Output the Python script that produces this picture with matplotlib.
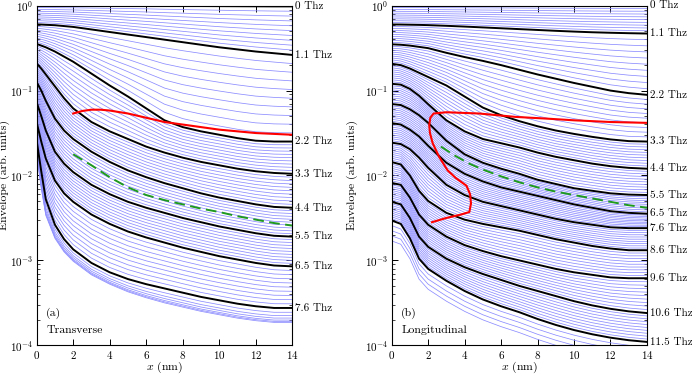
import numpy as np
import matplotlib
matplotlib.use('Agg')
from matplotlib import pyplot as plt
from matplotlib.ticker import LogLocator, NullFormatter, FixedLocator

plt.rcParams['font.family'] = 'cmr10'
plt.rcParams['mathtext.fontset'] = 'cm'
plt.rcParams['axes.formatter.use_mathtext'] = True

# ---- (a) transverse: log10(envelope) of the labelled (black) modes ----
xt = [0, 0.25, 0.5, 1, 1.5, 2, 3, 4, 5, 6, 7, 8, 9, 10, 11, 12, 13, 14]
t_00 = [0, 0, 0, 0, 0, 0, 0, 0, 0, 0, -0.002, -0.003, -0.004, -0.005, -0.006, -0.007, -0.008, -0.008]
t_11 = [-0.22, -0.222, -0.225, -0.23, -0.24, -0.25, -0.28, -0.31, -0.34, -0.37, -0.40, -0.43, -0.46, -0.49, -0.515, -0.54, -0.56, -0.58]
t_22 = [-0.45, -0.47, -0.49, -0.54, -0.60, -0.66, -0.80, -0.94, -1.07, -1.21, -1.35, -1.43, -1.48, -1.52, -1.56, -1.59, -1.60, -1.60]
t_33 = [-0.68, -0.74, -0.81, -0.95, -1.09, -1.21, -1.37, -1.48, -1.57, -1.66, -1.73, -1.79, -1.84, -1.88, -1.92, -1.95, -1.97, -1.98]
t_44 = [-0.90, -1.00, -1.12, -1.33, -1.47, -1.57, -1.72, -1.84, -1.94, -2.02, -2.09, -2.15, -2.21, -2.26, -2.30, -2.34, -2.37, -2.38]
t_55 = [-1.14, -1.30, -1.47, -1.72, -1.86, -1.96, -2.11, -2.22, -2.31, -2.38, -2.44, -2.50, -2.55, -2.60, -2.64, -2.68, -2.71, -2.72]
t_65 = [-1.375, -1.60, -1.80, -2.06, -2.21, -2.31, -2.46, -2.57, -2.66, -2.73, -2.79, -2.85, -2.90, -2.95, -2.99, -3.03, -3.06, -3.07]
t_76 = [-1.59, -1.95, -2.28, -2.58, -2.75, -2.87, -3.03, -3.14, -3.22, -3.28, -3.33, -3.38, -3.43, -3.47, -3.51, -3.54, -3.56, -3.56]
t_last = [-1.75, -2.15, -2.47, -2.74, -2.90, -3.01, -3.17, -3.28, -3.37, -3.44, -3.50, -3.55, -3.60, -3.64, -3.68, -3.71, -3.73, -3.73]
t_labels = ['0 Thz', '1.1 Thz', '2.2 Thz', '3.3 Thz', '4.4 Thz', '5.5 Thz', '6.5 Thz', '7.6 Thz']
t_last_frac = [0.30, 0.53, 0.70, 0.84, 0.93, 1.0]

t_red_x = [2.0, 2.5, 3.0, 3.5, 4, 5, 6, 7, 8, 9, 10, 11, 12, 13, 14]
t_red_y = [-1.27, -1.24, -1.225, -1.225, -1.235, -1.27, -1.32, -1.37, -1.40, -1.43, -1.46, -1.48, -1.50, -1.51, -1.52]
t_green_x = [2, 3, 4, 5, 6, 7, 8, 9, 10, 11, 12, 13, 14]
t_green_y = [-1.75, -1.88, -2.02, -2.14, -2.23, -2.29, -2.34, -2.39, -2.43, -2.48, -2.52, -2.56, -2.59]

# ---- (b) longitudinal ----
xl = [0, 0.5, 1, 1.5, 2, 3, 4, 5, 6, 7, 8, 9, 10, 11, 12, 13, 14]
l_00 = [0, 0, 0, 0, 0, 0, 0, 0, 0, 0, 0, 0, 0, 0, 0, 0, 0]
l_11 = [-0.221, -0.222, -0.224, -0.226, -0.229, -0.237, -0.246, -0.256, -0.266, -0.276, -0.286, -0.296, -0.305, -0.313, -0.319, -0.324, -0.328]
l_22 = [-0.455, -0.46, -0.47, -0.485, -0.50, -0.555, -0.605, -0.65, -0.70, -0.755, -0.81, -0.86, -0.91, -0.955, -1.00, -1.03, -1.05]
l_33 = [-0.684, -0.70, -0.74, -0.79, -0.84, -0.94, -1.07, -1.20, -1.29, -1.36, -1.42, -1.47, -1.51, -1.545, -1.575, -1.595, -1.60]
l_44 = [-0.92, -0.93, -0.98, -1.06, -1.16, -1.35, -1.48, -1.57, -1.62, -1.67, -1.73, -1.78, -1.82, -1.86, -1.89, -1.91, -1.92]
l_55 = [-1.158, -1.17, -1.22, -1.29, -1.38, -1.59, -1.75, -1.85, -1.92, -1.98, -2.05, -2.10, -2.15, -2.18, -2.21, -2.225, -2.23]
l_65 = [-1.383, -1.40, -1.46, -1.54, -1.65, -1.85, -1.98, -2.07, -2.14, -2.19, -2.24, -2.29, -2.34, -2.38, -2.42, -2.44, -2.45]
l_76 = [-1.613, -1.63, -1.69, -1.79, -1.91, -2.11, -2.23, -2.31, -2.36, -2.41, -2.46, -2.51, -2.55, -2.58, -2.61, -2.62, -2.62]
l_86 = [-1.842, -1.87, -2.00, -2.18, -2.30, -2.44, -2.52, -2.57, -2.61, -2.65, -2.70, -2.75, -2.79, -2.83, -2.86, -2.88, -2.88]
l_96 = [-2.087, -2.11, -2.26, -2.46, -2.58, -2.72, -2.82, -2.89, -2.95, -3.00, -3.05, -3.10, -3.14, -3.17, -3.20, -3.21, -3.21]
l_106 = [-2.31, -2.34, -2.50, -2.72, -2.84, -2.98, -3.08, -3.16, -3.23, -3.30, -3.36, -3.42, -3.48, -3.53, -3.57, -3.60, -3.62]
l_115 = [-2.53, -2.57, -2.74, -2.98, -3.10, -3.24, -3.36, -3.46, -3.54, -3.61, -3.69, -3.76, -3.82, -3.87, -3.91, -3.94, -3.96]
l_last = [-2.77, -2.81, -2.98, -3.22, -3.34, -3.48, -3.60, -3.70, -3.78, -3.85, -3.93, -4.00, -4.06, -4.11, -4.15, -4.18, -4.20]
l_labels = ['0 Thz', '1.1 Thz', '2.2 Thz', '3.3 Thz', '4.4 Thz', '5.5 Thz', '6.5 Thz',
            '7.6 Thz', '8.6 Thz', '9.6 Thz', '10.6 Thz', '11.5 Thz']
l_last_frac = [0.25, 0.5, 0.75, 1.0]

l_red_x = [2.21, 3.0, 3.8, 4.26, 4.35, 4.3, 4.1, 3.52, 3.07, 2.6, 2.25, 2.1, 2.06, 2.12, 2.3, 3.0, 4.8, 6.8, 8.5, 10, 12, 14]
l_red_y = [-2.55, -2.50, -2.46, -2.43, -2.33, -2.22, -2.12, -2.03, -1.94, -1.78, -1.62, -1.50, -1.41, -1.32, -1.27, -1.255, -1.27, -1.31, -1.33, -1.35, -1.37, -1.38]
l_green_x = [2.7, 3.5, 4.25, 5, 6, 7, 8, 9, 10, 11, 12, 13, 14]
l_green_y = [-1.66, -1.77, -1.86, -1.93, -2.01, -2.08, -2.14, -2.19, -2.23, -2.27, -2.31, -2.35, -2.38]

BLUE = '#8c8cff'


def panel(ax, x, blacks, labels, last, last_frac, rx, ry, gx, gy, tag, name):
    x = np.array(x)
    blacks = [np.array(b) for b in blacks]
    # thin modes between two labelled ones (every 10th mode is drawn in black)
    for a, b in zip(blacks[:-1], blacks[1:]):
        for k in range(1, 10):
            ax.plot(x, 10 ** (a + (b - a) * k / 10), color=BLUE, lw=0.55)
    a, b = blacks[-1], np.array(last)
    for f in last_frac:
        ax.plot(x, 10 ** (a + (b - a) * f), color=BLUE, lw=0.55)
    for b, lab in zip(blacks, labels):
        ax.plot(x, 10 ** b, color='black', lw=1.4)
        ax.text(1.012, 10 ** b[-1], lab, transform=ax.get_yaxis_transform(),
                va='center', ha='left', fontsize=8)
    ax.plot(rx, 10 ** np.array(ry), color='red', lw=1.5, zorder=5)
    ax.plot(gx, 10 ** np.array(gy), color='#1f9a1f', lw=1.4, dashes=(5.5, 2.8), zorder=5)

    ax.set_yscale('log')
    ax.set_xlim(0, 14)
    ax.set_ylim(1e-4, 1)
    ax.xaxis.set_major_locator(FixedLocator([0, 2, 4, 6, 8, 10, 12, 14]))
    ax.yaxis.set_major_locator(LogLocator(base=10, numticks=10))
    ax.yaxis.set_minor_locator(LogLocator(base=10, subs=np.arange(2, 10), numticks=10))
    ax.yaxis.set_minor_formatter(NullFormatter())
    ax.tick_params(which='both', direction='in', top=True, right=True, labelsize=8, pad=2.5)
    ax.tick_params(which='major', length=4, width=0.7)
    ax.tick_params(which='minor', length=2, width=0.5)
    ax.set_xlabel('$x$ (nm)', fontsize=8.5)
    ax.xaxis.set_label_coords(0.5, -0.042)
    ax.set_ylabel('Envelope (arb. units)', fontsize=8.5)
    ax.text(0.037, 0.093, tag, transform=ax.transAxes, va='center', ha='left', fontsize=8.5)
    ax.text(0.037, 0.045, name, transform=ax.transAxes, va='center', ha='left', fontsize=8.5)


fig = plt.figure(figsize=(6.92, 3.74), dpi=100)
ax1 = fig.add_axes([0.053, 0.0767, 0.3694, 0.9081])
ax2 = fig.add_axes([0.566, 0.0767, 0.3689, 0.9081])

panel(ax1, xt, [t_00, t_11, t_22, t_33, t_44, t_55, t_65, t_76], t_labels, t_last, t_last_frac,
      t_red_x, t_red_y, t_green_x, t_green_y, '(a)', 'Transverse')
panel(ax2, xl, [l_00, l_11, l_22, l_33, l_44, l_55, l_65, l_76, l_86, l_96, l_106, l_115], l_labels,
      l_last, l_last_frac, l_red_x, l_red_y, l_green_x, l_green_y, '(b)', 'Longitudinal')
ax1.yaxis.set_label_coords(-0.105, 0.5)
ax2.yaxis.set_label_coords(-0.13, 0.5)

fig.savefig('out.png', dpi=100)
